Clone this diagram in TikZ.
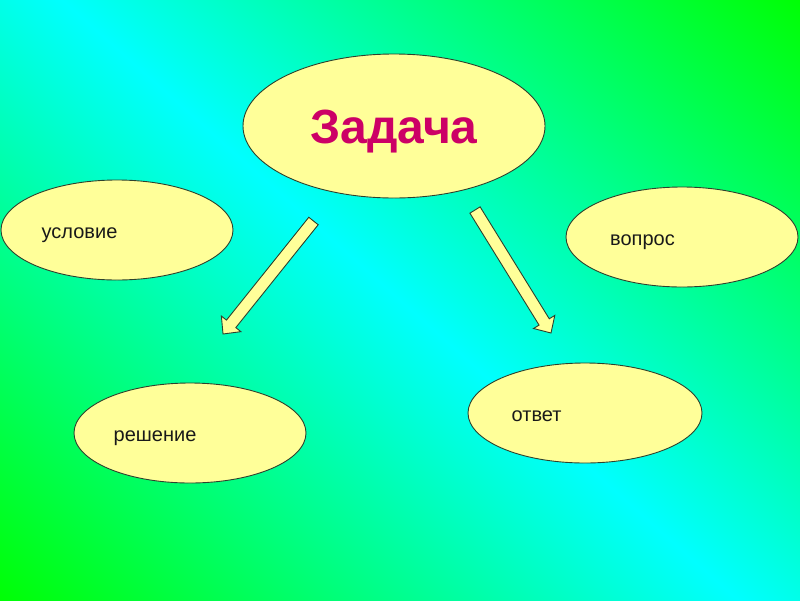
\documentclass[tikz,border=0pt]{standalone}
\usepackage{fontspec}
\setmainfont{Liberation Sans}
\usetikzlibrary{shapes.geometric,calc}
\definecolor{bggreen}{RGB}{0,255,0}
\definecolor{bgcyan}{RGB}{0,255,255}
\definecolor{paleyellow}{RGB}{255,255,153}
\definecolor{edgecol}{RGB}{45,65,45}
\definecolor{titlecol}{RGB}{204,0,102}
\definecolor{textcol}{RGB}{25,25,25}
\pgfdeclareverticalshading{bgshade}{100bp}{color(0bp)=(bggreen); color(18.75bp)=(bggreen); color(50bp)=(bgcyan); color(81.25bp)=(bggreen); color(100bp)=(bggreen)}
\tikzset{
  oval/.style={ellipse, draw=edgecol, line width=0.9pt, fill=paleyellow, inner sep=0pt},
  barrow/.style={draw=edgecol, line width=0.9pt, fill=paleyellow, line join=miter},
  small/.style={font=\fontsize{20}{24}\selectfont, text=textcol, inner sep=0pt},
  title/.style={font=\fontsize{48}{56}\selectfont\bfseries, text=titlecol, inner sep=0pt}
}
\newcommand\blockarrowdraw[2]{%
  \coordinate (#1h) at ($(#2)!13pt!(#1)$);
  \draw[barrow] ($(#1)!6pt!90:(#2)$) -- ($(#1h)!6pt!90:(#2)$) -- ($(#1h)!12.5pt!90:(#2)$) -- (#2) -- ($(#1h)!12.5pt!-90:(#2)$) -- ($(#1h)!6pt!-90:(#2)$) -- ($(#1)!6pt!-90:(#2)$) -- cycle;}
\begin{document}
\begin{tikzpicture}[x=1pt,y=-1pt]
\useasboundingbox (0,0) rectangle (800,600);
\begin{scope}
  \clip (0,0) rectangle (800,600);
  \shade[shading=bgshade, shading angle=-41.6] (0,-100) rectangle (800,700);
\end{scope}
% ovals
\node[oval, minimum width=302pt, minimum height=144pt] (zad) at (394,126) {};
\node[title, anchor=base] (zadt) at (394,143) {Задача};
\node[oval, minimum width=232pt, minimum height=100pt] (usl) at (117,230) {};
\node[small, anchor=base west] (uslt) at (41.5,238.5) {условие};
\node[oval, minimum width=232pt, minimum height=100pt] (vop) at (682,237) {};
\node[small, anchor=base west] (vopt) at (610,245) {вопрос};
\node[oval, minimum width=232pt, minimum height=100pt] (resh) at (190,433) {};
\node[small, anchor=base west] (resht) at (113.5,441) {решение};
\node[oval, minimum width=234pt, minimum height=100pt] (otv) at (585,413) {};
\node[small, anchor=base west] (otvt) at (511.5,421) {ответ};
% block arrows
\coordinate (la) at (313.5,221);
\coordinate (lb) at (223,334);
\coordinate (ra) at (475,210);
\coordinate (rb) at (551,333);
\blockarrowdraw{la}{lb}
\blockarrowdraw{ra}{rb}
\end{tikzpicture}
\end{document}
